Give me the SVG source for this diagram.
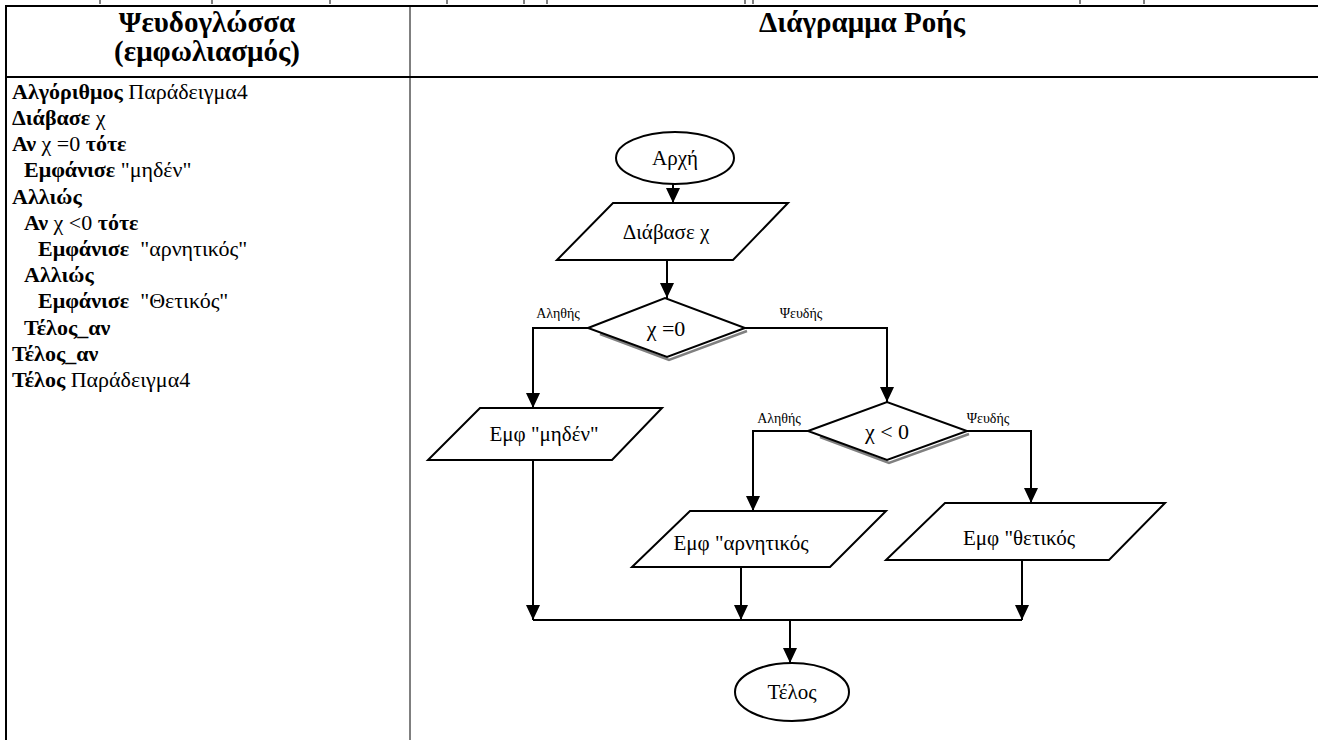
<svg xmlns="http://www.w3.org/2000/svg" width="1318" height="740" viewBox="0 0 1318 740">
<style>
  .hd { font-size: 29px; font-weight: bold; text-anchor: middle; fill: #000; }
  .code { font-size: 22px; fill: #000; }
  .b { font-weight: bold; }
  .node { fill: #fff; stroke: #000; stroke-width: 2; }
  .ntext { font-size: 21px; text-anchor: middle; fill: #000; }
  .dtext { font-size: 22px; text-anchor: middle; fill: #000; }
  .lbl { font-size: 14px; text-anchor: middle; fill: #000; }
  .conn { fill: none; stroke: #000; stroke-width: 2; }
  .shadow { fill: none; stroke: #808080; stroke-width: 2.5; }
  .rule { stroke: #000; }
</style>
<defs>
  <marker id="arrow" markerUnits="userSpaceOnUse" viewBox="0 0 15 14" markerWidth="15" markerHeight="14" refX="15" refY="7" orient="auto">
    <path d="M0,0 L15,7 L0,14 z" fill="#000"/>
  </marker>
</defs>
<rect x="0" y="0" width="1318" height="740" fill="#fff"/>

<g id="top-fragments" stroke="#000" stroke-width="1">
  <line x1="100" y1="0" x2="100" y2="4"/>
  <line x1="212" y1="0" x2="212" y2="4"/>
  <line x1="330" y1="0" x2="330" y2="4"/>
  <line x1="447" y1="0" x2="447" y2="4"/>
  <line x1="524" y1="0" x2="524" y2="4"/>
  <line x1="547" y1="0" x2="547" y2="4"/>
  <line x1="745" y1="0" x2="745" y2="4"/>
  <line x1="753" y1="0" x2="753" y2="4"/>
  <line x1="1080" y1="0" x2="1080" y2="4"/>
  <line x1="1144" y1="0" x2="1144" y2="4"/>
</g>

<g id="table">
  <line class="rule" x1="5" y1="6" x2="1318" y2="6" stroke-width="2"/>
  <line class="rule" x1="5" y1="77" x2="1318" y2="77" stroke-width="2"/>
  <line class="rule" x1="6" y1="5" x2="6" y2="740" stroke-width="2"/>
  <line class="rule" x1="410" y1="6" x2="410" y2="740" stroke-width="1"/>
  <text class="hd" font-family="Liberation Serif" x="207" y="32">Ψευδογλώσσα</text>
  <text class="hd" font-family="Liberation Serif" x="207" y="61">(εμφωλιασμός)</text>
  <text class="hd" font-family="Liberation Serif" x="862" y="32">Διάγραμμα Ροής</text>
</g>

<g id="pseudocode">
  <text class="code" font-family="Liberation Serif" x="12" y="99"><tspan class="b">Αλγόριθμος</tspan> Παράδειγμα4</text>
  <text class="code" font-family="Liberation Serif" x="12" y="125"><tspan class="b">Διάβασε</tspan> χ</text>
  <text class="code" font-family="Liberation Serif" x="12" y="151"><tspan class="b">Αν</tspan> χ =0 <tspan class="b">τότε</tspan></text>
  <text class="code" font-family="Liberation Serif" x="24" y="177"><tspan class="b">Εμφάνισε</tspan> "μηδέν"</text>
  <text class="code" font-family="Liberation Serif" x="12" y="204"><tspan class="b">Αλλιώς</tspan></text>
  <text class="code" font-family="Liberation Serif" x="24" y="230"><tspan class="b">Αν</tspan> χ &lt;0 <tspan class="b">τότε</tspan></text>
  <text class="code" font-family="Liberation Serif" x="38" y="256"><tspan class="b">Εμφάνισε</tspan><tspan dx="11">"αρνητικός"</tspan></text>
  <text class="code" font-family="Liberation Serif" x="24" y="282"><tspan class="b">Αλλιώς</tspan></text>
  <text class="code" font-family="Liberation Serif" x="38" y="308"><tspan class="b">Εμφάνισε</tspan><tspan dx="11">"Θετικός"</tspan></text>
  <text class="code" font-family="Liberation Serif" x="24" y="335"><tspan class="b">Τέλος_αν</tspan></text>
  <text class="code" font-family="Liberation Serif" x="12" y="361"><tspan class="b">Τέλος_αν</tspan></text>
  <text class="code" font-family="Liberation Serif" x="12" y="387"><tspan class="b">Τέλος</tspan> Παράδειγμα4</text>
</g>

<g id="connectors">
  <path class="conn" d="M673,184 V203" marker-end="url(#arrow)"/>
  <path class="conn" d="M667,260 V298" marker-end="url(#arrow)"/>
  <path class="conn" d="M588,328 H533 V408" marker-end="url(#arrow)"/>
  <path class="conn" d="M745,328 H887 V402" marker-end="url(#arrow)"/>
  <path class="conn" d="M808,431 H753 V511" marker-end="url(#arrow)"/>
  <path class="conn" d="M967,431 H1031 V503" marker-end="url(#arrow)"/>
  <path class="conn" d="M533,460 V620" marker-end="url(#arrow)"/>
  <path class="conn" d="M741,567 V620" marker-end="url(#arrow)"/>
  <path class="conn" d="M1022,560 V620" marker-end="url(#arrow)"/>
  <path class="conn" d="M533,620 H1022"/>
  <path class="conn" d="M790,620 V663" marker-end="url(#arrow)"/>
  <text class="lbl" font-family="Liberation Serif" x="558" y="318">Αληθής</text>
  <text class="lbl" font-family="Liberation Serif" x="801" y="318">Ψευδής</text>
  <text class="lbl" font-family="Liberation Serif" x="779" y="423">Αληθής</text>
  <text class="lbl" font-family="Liberation Serif" x="988" y="423">Ψευδής</text>
</g>

<g id="start">
  <ellipse class="node" cx="675" cy="158" rx="59" ry="26"/>
  <text class="ntext" font-family="Liberation Serif" x="675" y="165">Αρχή</text>
</g>

<g id="read">
  <polygon class="node" points="613,203 788,203 733,260 557,260"/>
  <text class="ntext" font-family="Liberation Serif" x="666" y="239">Διάβασε χ</text>
</g>

<g id="dec1">
  <polyline class="shadow" points="747,331 669,360 600,334"/>
  <polygon class="node" points="588,328 665,298 745,328 667,357"/>
  <text class="dtext" font-family="Liberation Serif" x="666" y="336">χ =0</text>
</g>

<g id="out-zero">
  <polygon class="node" points="480,408 662,408 612,460 428,460"/>
  <text class="ntext" font-family="Liberation Serif" x="544" y="441">Εμφ "μηδέν"</text>
</g>

<g id="dec2">
  <polyline class="shadow" points="969,434 889,463 820,437"/>
  <polygon class="node" points="808,431 887,402 967,431 887,460"/>
  <text class="dtext" font-family="Liberation Serif" x="887" y="439">χ &lt; 0</text>
</g>

<g id="out-neg">
  <polygon class="node" points="690,511 886,511 830,567 632,567"/>
  <text class="ntext" font-family="Liberation Serif" x="741" y="550">Εμφ "αρνητικός</text>
</g>

<g id="out-pos">
  <polygon class="node" points="945,503 1165,503 1109,560 886,560"/>
  <text class="ntext" font-family="Liberation Serif" x="1019" y="545">Εμφ "θετικός</text>
</g>

<g id="end">
  <ellipse class="node" cx="792" cy="692" rx="57" ry="29"/>
  <text class="ntext" font-family="Liberation Serif" x="792" y="699">Τέλος</text>
</g>
</svg>
